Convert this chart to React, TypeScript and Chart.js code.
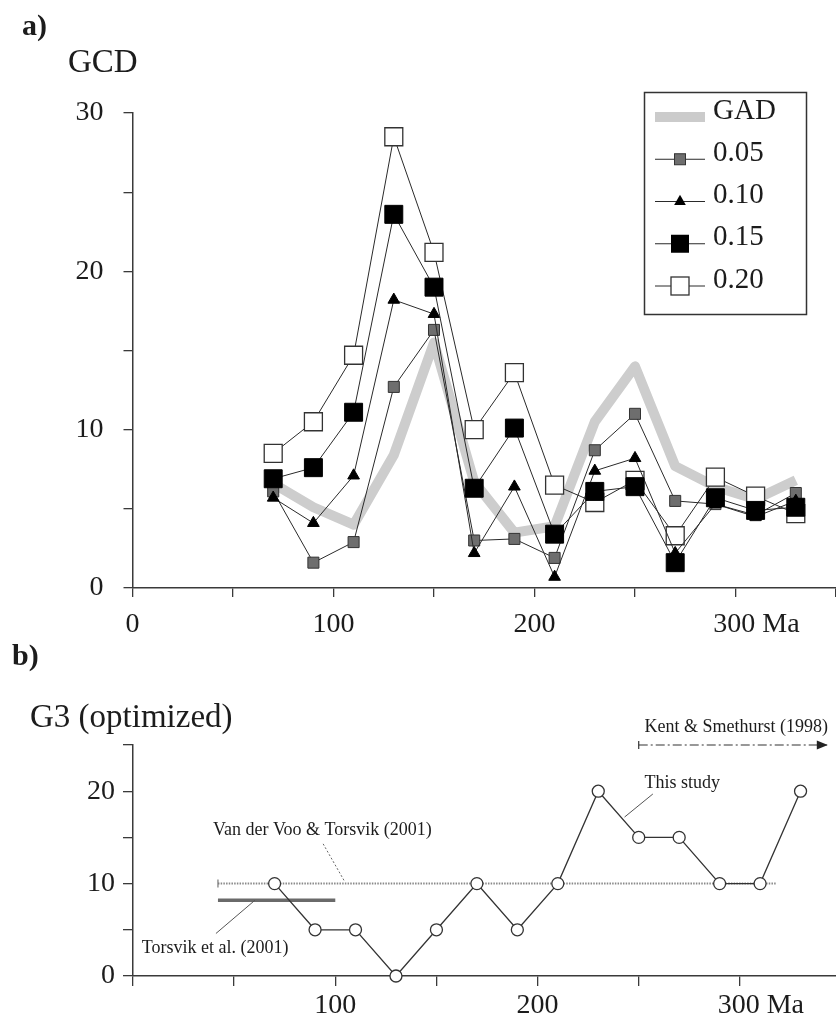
import React, { useEffect, useRef } from 'react';
import { Chart, registerables } from 'chart.js';

Chart.register(...registerables);

// ---------- data: panel a ----------
const ages = [70, 90, 110, 130, 150, 170, 190, 210, 230, 250, 270, 290, 310, 330];
const gadValues = [6.6, 5.1, 4.0, 8.4, 15.5, 6.7, 3.5, 3.9, 10.5, 14.0, 7.7, 6.4, 5.6, 6.8];
const g005 = [6.1, 1.6, 2.9, 12.7, 16.3, 3.0, 3.1, 1.9, 8.7, 11.0, 5.5, 5.3, 4.6, 6.0];
const g010 = [5.7, 4.1, 7.1, 18.2, 17.3, 2.2, 6.4, 0.7, 7.4, 8.2, 2.2, 5.3, 4.5, 5.5];
const g015 = [6.9, 7.6, 11.1, 23.6, 19.0, 6.3, 10.1, 3.4, 6.1, 6.4, 1.6, 5.7, 4.9, 5.1];
const g020 = [8.5, 10.5, 14.7, 28.5, 21.2, 10.0, 13.6, 6.5, 5.4, 6.8, 3.3, 7.0, 5.8, 4.7];
const legendLabels = ['GAD', '0.05', '0.10', '0.15', '0.20'];
const xTickLabelsA: Record<number, string> = { 0: '0', 100: '100', 200: '200', 300: '      300 Ma' };
const yTickLabelsA: Record<number, string> = { 0: '0', 10: '10', 20: '20', 30: '30' };

// ---------- data: panel b ----------
const thisStudy = [10, 5, 5, 0, 5, 10, 5, 10, 20, 15, 15, 10, 10, 20];
const vdvAges = [42, 318];
const vdvValues = [10, 10];
const torsvikAges = [42, 100];
const torsvikValues = [8.2, 8.2];
const kentAges = [250, 343];
const kentValues = [25, 25];
const xTickLabelsB: Record<number, string> = { 100: '100', 200: '200', 300: '      300 Ma' };
const yTickLabelsB: Record<number, string> = { 0: '0', 10: '10', 20: '20' };

const FONT = "'Liberation Serif', 'Times New Roman', serif";
const INK = '#1c1c1c';
const AXIS = '#3a3a3a';

const pts = (xs: number[], ys: number[]) => xs.map((x, i) => ({ x, y: ys[i] }));

function drawMarker(ctx: CanvasRenderingContext2D, kind: string, x: number, y: number) {
  ctx.save();
  if (kind === 'GAD') {
    ctx.strokeStyle = '#cbcbcb';
    ctx.lineWidth = 10;
    ctx.beginPath();
    ctx.moveTo(x - 25, y);
    ctx.lineTo(x + 25, y);
    ctx.stroke();
    ctx.restore();
    return;
  }
  ctx.strokeStyle = '#2a2a2a';
  ctx.lineWidth = 1;
  ctx.beginPath();
  ctx.moveTo(x - 25, y);
  ctx.lineTo(x + 25, y);
  ctx.stroke();
  if (kind === '0.05') {
    ctx.fillStyle = '#6e6e6e';
    ctx.strokeStyle = '#333';
    ctx.fillRect(x - 5.5, y - 5.5, 11, 11);
    ctx.strokeRect(x - 5.5, y - 5.5, 11, 11);
  } else if (kind === '0.10') {
    const r = 6.75;
    ctx.fillStyle = '#000';
    ctx.beginPath();
    ctx.moveTo(x, y - r);
    ctx.lineTo(x + r * 0.866, y + r * 0.5);
    ctx.lineTo(x - r * 0.866, y + r * 0.5);
    ctx.closePath();
    ctx.fill();
  } else if (kind === '0.15') {
    ctx.fillStyle = '#000';
    ctx.fillRect(x - 9, y - 9, 18, 18);
  } else {
    ctx.fillStyle = '#fff';
    ctx.strokeStyle = '#333';
    ctx.lineWidth = 1.3;
    ctx.fillRect(x - 9, y - 9, 18, 18);
    ctx.strokeRect(x - 9, y - 9, 18, 18);
  }
  ctx.restore();
}

const annotA = {
  id: 'annotA',
  afterDraw(chart: any) {
    const ctx: CanvasRenderingContext2D = chart.ctx;
    ctx.save();
    ctx.fillStyle = INK;
    ctx.textBaseline = 'alphabetic';
    ctx.textAlign = 'left';
    ctx.font = `bold 30px ${FONT}`;
    ctx.fillText('a)', 22, 35);
    ctx.font = `33px ${FONT}`;
    ctx.fillText('GCD', 68, 72);
    // legend
    ctx.strokeStyle = '#333';
    ctx.lineWidth = 1.5;
    ctx.strokeRect(644.5, 92.5, 162, 222);
    ctx.font = `29px ${FONT}`;
    ctx.textBaseline = 'middle';
    legendLabels.forEach((lab, i) => {
      const ty = 111 + 42.25 * i;
      drawMarker(ctx, lab, 680, ty + 6);
      ctx.fillStyle = INK;
      ctx.fillText(lab, 713, ty);
    });
    ctx.restore();
  },
};

const annotB = {
  id: 'annotB',
  afterDatasetsDraw(chart: any) {
    const ctx: CanvasRenderingContext2D = chart.ctx;
    const xs = chart.scales.x;
    const ys = chart.scales.y;
    const X = (v: number) => xs.getPixelForValue(v);
    const Y = (v: number) => ys.getPixelForValue(v);
    ctx.save();
    // caps
    ctx.strokeStyle = '#777';
    ctx.lineWidth = 1.2;
    ctx.beginPath();
    ctx.moveTo(X(vdvAges[0]), Y(vdvValues[0]) - 4);
    ctx.lineTo(X(vdvAges[0]), Y(vdvValues[0]) + 4);
    ctx.stroke();
    ctx.strokeStyle = '#333';
    ctx.beginPath();
    ctx.moveTo(X(kentAges[0]), Y(kentValues[0]) - 4);
    ctx.lineTo(X(kentAges[0]), Y(kentValues[0]) + 4);
    ctx.stroke();
    // arrow head
    const tx = X(kentAges[1]);
    const ty = Y(kentValues[1]);
    ctx.fillStyle = '#222';
    ctx.beginPath();
    ctx.moveTo(tx + 1, ty);
    ctx.lineTo(tx - 10, ty - 4.5);
    ctx.lineTo(tx - 10, ty + 4.5);
    ctx.closePath();
    ctx.fill();
    // leaders
    ctx.strokeStyle = '#555';
    ctx.lineWidth = 1;
    ctx.beginPath();
    ctx.moveTo(X(257), Y(19.7));
    ctx.lineTo(X(243), Y(17.2));
    ctx.moveTo(X(60.3), Y(8.2));
    ctx.lineTo(X(41), Y(4.6));
    ctx.stroke();
    ctx.setLineDash([2, 2]);
    ctx.strokeStyle = '#666';
    ctx.beginPath();
    ctx.moveTo(X(94), Y(14.3));
    ctx.lineTo(X(104.7), Y(10.2));
    ctx.stroke();
    ctx.setLineDash([]);
    // texts
    ctx.fillStyle = INK;
    ctx.textAlign = 'left';
    ctx.textBaseline = 'middle';
    ctx.font = `18px ${FONT}`;
    ctx.fillText('Kent & Smethurst (1998)', X(252.9), Y(26.9));
    ctx.fillText('This study', X(252.9), Y(20.9));
    ctx.fillText('Van der Voo & Torsvik (2001)', X(39.5), Y(15.8));
    ctx.fillText('Torsvik et al. (2001)', X(4.3), Y(3.0));
    // titles
    ctx.textBaseline = 'alphabetic';
    ctx.font = `bold 30px ${FONT}`;
    ctx.fillText('b)', 12, 25);
    ctx.font = `33px ${FONT}`;
    ctx.fillText('G3 (optimized)', 30, 87);
    ctx.restore();
  },
};

function axisCommon(tickLength: number) {
  return {
    grid: { drawOnChartArea: false, drawTicks: true, tickLength, color: AXIS, lineWidth: 1.3 },
    border: { display: true, color: AXIS, width: 1.5 },
  };
}

function configA(): any {
  const lineBase = { borderColor: '#2a2a2a', borderWidth: 1, tension: 0, clip: false as any };
  return {
    type: 'line',
    data: {
      datasets: [
        { ...lineBase, label: '0.15', data: pts(ages, g015), pointStyle: 'rect', pointRadius: 12.7, pointBackgroundColor: '#000', pointBorderColor: '#000', pointBorderWidth: 1 },
        { ...lineBase, label: '0.10', data: pts(ages, g010), pointStyle: 'triangle', pointRadius: 6.75, pointBackgroundColor: '#000', pointBorderColor: '#000', pointBorderWidth: 1 },
        { ...lineBase, label: '0.05', data: pts(ages, g005), pointStyle: 'rect', pointRadius: 7.8, pointBackgroundColor: '#6e6e6e', pointBorderColor: '#333', pointBorderWidth: 1 },
        { ...lineBase, label: '0.20', data: pts(ages, g020), pointStyle: 'rect', pointRadius: 12.7, pointBackgroundColor: '#fff', pointBorderColor: '#333', pointBorderWidth: 1.3 },
        { label: 'GAD', data: pts(ages, gadValues), borderColor: '#cdcdcd', borderWidth: 10, borderJoinStyle: 'round', pointRadius: 0, tension: 0, clip: false },
      ],
    },
    options: {
      animation: false,
      responsive: false,
      events: [],
      layout: { padding: { left: 0, top: 113, right: 9, bottom: 0 } },
      plugins: { legend: { display: false }, tooltip: { enabled: false } },
      scales: {
        x: {
          type: 'linear', min: 0, max: 350,
          afterFit: (s: any) => { s.height = 52; },
          ticks: {
            stepSize: 50, autoSkip: false, maxRotation: 0, padding: 11,
            color: INK, font: { family: FONT, size: 28 },
            callback: (v: number) => xTickLabelsA[v] ?? '',
          },
          ...axisCommon(9),
        },
        y: {
          type: 'linear', min: 0, max: 30,
          afterFit: (s: any) => { s.width = 132.5; },
          ticks: {
            stepSize: 5, padding: 20, color: INK, font: { family: FONT, size: 28 },
            callback: (v: number) => yTickLabelsA[v] ?? '',
          },
          ...axisCommon(9),
        },
      },
    },
    plugins: [annotA],
  };
}

function configB(): any {
  return {
    type: 'line',
    data: {
      datasets: [
        { label: 'This study', data: pts(ages, thisStudy), borderColor: '#333', borderWidth: 1.3, tension: 0, pointStyle: 'circle', pointRadius: 6, pointBackgroundColor: '#fff', pointBorderColor: '#333', pointBorderWidth: 1.3, clip: false },
        { label: 'Van der Voo & Torsvik (2001)', data: pts(vdvAges, vdvValues), borderColor: '#8a8a8a', borderWidth: 2, borderDash: [1.5, 1.2], pointRadius: 0, clip: false },
        { label: 'Torsvik et al. (2001)', data: pts(torsvikAges, torsvikValues), borderColor: '#6a6a6a', borderWidth: 3.3, pointRadius: 0, clip: false },
        { label: 'Kent & Smethurst (1998)', data: pts(kentAges, kentValues), borderColor: '#333', borderWidth: 1.2, borderDash: [9, 3, 2, 3], pointRadius: 0, clip: false },
      ],
    },
    options: {
      animation: false,
      responsive: false,
      events: [],
      layout: { padding: { left: 0, top: 105, right: 9, bottom: 0 } },
      plugins: { legend: { display: false }, tooltip: { enabled: false } },
      scales: {
        x: {
          type: 'linear', min: 0, max: 350,
          afterFit: (s: any) => { s.height = 45; },
          ticks: {
            stepSize: 50, autoSkip: false, maxRotation: 0, padding: 3,
            color: INK, font: { family: FONT, size: 28 },
            callback: (v: number) => xTickLabelsB[v] ?? '',
          },
          ...axisCommon(10),
        },
        y: {
          type: 'linear', min: 0, max: 25,
          afterFit: (s: any) => { s.width = 133; },
          ticks: {
            stepSize: 5, padding: 8, color: INK, font: { family: FONT, size: 28 },
            callback: (v: number) => yTickLabelsB[v] ?? '',
          },
          ...axisCommon(10),
        },
      },
    },
    plugins: [annotB],
  };
}

export default function App() {
  const aRef = useRef<HTMLCanvasElement>(null);
  const bRef = useRef<HTMLCanvasElement>(null);
  useEffect(() => {
    const ca = new Chart(aRef.current as HTMLCanvasElement, configA());
    const cb = new Chart(bRef.current as HTMLCanvasElement, configB());
    return () => {
      ca.destroy();
      cb.destroy();
    };
  }, []);
  return (
    <div style={{ position: 'absolute', left: 0, top: 0, width: 836, height: 1021, overflow: 'hidden', background: '#fff' }}>
      <canvas ref={aRef} width={850} height={640} style={{ position: 'absolute', left: 0, top: 0 }} />
      <canvas ref={bRef} width={850} height={381} style={{ position: 'absolute', left: 0, top: 640 }} />
    </div>
  );
}
